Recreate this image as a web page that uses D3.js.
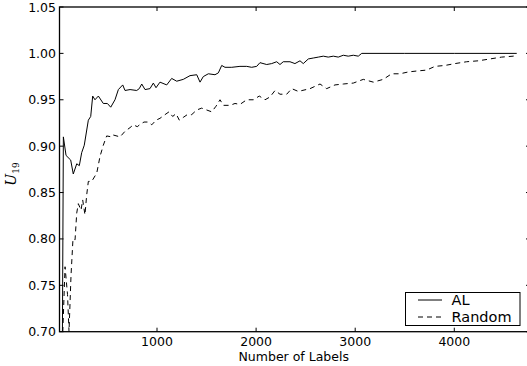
<!DOCTYPE html>
<html>
<head>
  <meta charset="UTF-8">
  <style>
    body { margin: 0; background: #fff; }
    svg text { font-family: "DejaVu Sans", sans-serif; fill: #000; }
  </style>
  <script src="https://d3js.org/d3.v7.min.js"></script>
</head>
<body>
<svg id="chart" width="527" height="366"></svg>
<script>
// number of labels vs U19
var alX = [41, 55, 82, 129, 155, 190, 216, 240, 266, 307, 331, 351, 374, 408, 458, 499, 533, 576, 610, 654, 677, 728, 795, 821, 846, 879, 929, 963, 990, 1030, 1098, 1148, 1199, 1265, 1333, 1401, 1434, 1467, 1518, 1585, 1619, 1653, 1686, 1754, 1837, 1905, 1955, 2006, 2039, 2107, 2157, 2208, 2241, 2274, 2342, 2392, 2443, 2476, 2527, 2577, 2628, 2678, 2728, 2779, 2829, 2880, 2930, 2981, 3031, 3066, 3500, 4000, 4630];
var alY = [0.60, 0.910, 0.890, 0.885, 0.870, 0.881, 0.879, 0.893, 0.901, 0.928, 0.932, 0.954, 0.950, 0.954, 0.946, 0.946, 0.942, 0.950, 0.961, 0.966, 0.960, 0.961, 0.960, 0.962, 0.967, 0.961, 0.962, 0.968, 0.963, 0.969, 0.966, 0.973, 0.970, 0.972, 0.976, 0.977, 0.969, 0.975, 0.978, 0.977, 0.979, 0.987, 0.985, 0.985, 0.986, 0.986, 0.985, 0.986, 0.990, 0.988, 0.989, 0.991, 0.988, 0.991, 0.991, 0.989, 0.992, 0.989, 0.994, 0.995, 0.996, 0.997, 0.996, 0.997, 0.996, 0.998, 0.997, 0.998, 0.997, 1.000, 1.000, 1.000, 1.000];

var rndX = [46, 72, 97, 112, 132, 152, 173, 190, 206, 233, 250, 273, 290, 307, 341, 392, 425, 458, 492, 543, 559, 627, 677, 728, 761, 801, 836, 869, 912, 947, 990, 1030, 1081, 1121, 1158, 1192, 1225, 1265, 1306, 1350, 1401, 1451, 1501, 1552, 1595, 1636, 1669, 1737, 1787, 1837, 1905, 1972, 2032, 2090, 2140, 2191, 2241, 2309, 2359, 2426, 2544, 2645, 2712, 2796, 2880, 2981, 3082, 3183, 3283, 3368, 3452, 3536, 3620, 3721, 3805, 3906, 4007, 4125, 4242, 4360, 4478, 4595, 4635];
var rndY = [0.69, 0.77, 0.74, 0.70, 0.76, 0.80, 0.799, 0.828, 0.838, 0.831, 0.842, 0.826, 0.847, 0.862, 0.862, 0.871, 0.889, 0.901, 0.911, 0.910, 0.912, 0.910, 0.916, 0.920, 0.923, 0.921, 0.924, 0.926, 0.926, 0.923, 0.928, 0.930, 0.934, 0.937, 0.932, 0.935, 0.928, 0.931, 0.934, 0.934, 0.939, 0.941, 0.939, 0.937, 0.943, 0.950, 0.944, 0.944, 0.946, 0.945, 0.950, 0.950, 0.954, 0.950, 0.953, 0.960, 0.956, 0.956, 0.962, 0.959, 0.962, 0.967, 0.962, 0.966, 0.967, 0.968, 0.972, 0.969, 0.972, 0.978, 0.978, 0.980, 0.981, 0.982, 0.986, 0.987, 0.989, 0.991, 0.992, 0.994, 0.996, 0.997, 0.998];

var xTicks = [1000, 2000, 3000, 4000];
var yTicks = [0.70, 0.75, 0.80, 0.85, 0.90, 0.95, 1.00, 1.05];
var seriesNames = ["AL", "Random"];

(function() {
  var svg = d3.select("#chart");
  var pl = 59.5, pr = 530, pt = 7, pb = 331.7;

  var x = d3.scaleLinear().domain([16, 4764]).range([pl, pr]);
  var y = d3.scaleLinear().domain([0.70, 1.05]).range([pb, pt]);

  svg.append("clipPath").attr("id", "clip")
    .append("rect").attr("x", pl).attr("y", pt)
    .attr("width", pr - pl).attr("height", pb - pt);

  var line = d3.line().x(d => x(d[0])).y(d => y(d[1]));
  var plot = svg.append("g").attr("clip-path", "url(#clip)");

  plot.append("path")
    .datum(d3.zip(alX, alY))
    .attr("d", line)
    .attr("fill", "none").attr("stroke", "#000").attr("stroke-width", 1);

  plot.append("path")
    .datum(d3.zip(rndX, rndY))
    .attr("d", line)
    .attr("fill", "none").attr("stroke", "#000").attr("stroke-width", 1)
    .attr("stroke-dasharray", "5,4");

  // ticks, pointing inward on all four sides
  var tk = 4;
  svg.append("g").selectAll("line").data(xTicks).enter().append("line")
    .attr("x1", d => x(d)).attr("x2", d => x(d))
    .attr("y1", pb).attr("y2", pb - tk)
    .attr("stroke", "#000");
  svg.append("g").selectAll("line").data(xTicks).enter().append("line")
    .attr("x1", d => x(d)).attr("x2", d => x(d))
    .attr("y1", pt).attr("y2", pt + tk)
    .attr("stroke", "#000");
  svg.append("g").selectAll("line").data(yTicks).enter().append("line")
    .attr("x1", pl).attr("x2", pl + tk)
    .attr("y1", d => y(d)).attr("y2", d => y(d))
    .attr("stroke", "#000");
  svg.append("g").selectAll("line").data(yTicks).enter().append("line")
    .attr("x1", pr - tk).attr("x2", pr)
    .attr("y1", d => y(d)).attr("y2", d => y(d))
    .attr("stroke", "#000");

  svg.append("g").selectAll("text").data(xTicks).enter().append("text")
    .attr("x", d => x(d)).attr("y", 346)
    .attr("text-anchor", "middle").attr("font-size", "12.5px")
    .text(d => d);
  svg.append("g").selectAll("text").data(yTicks).enter().append("text")
    .attr("x", 56).attr("y", d => y(d) + 4.5)
    .attr("text-anchor", "end").attr("font-size", "12.5px")
    .text(d => d.toFixed(2));

  // frame
  svg.append("rect")
    .attr("x", pl).attr("y", pt)
    .attr("width", pr - pl).attr("height", pb - pt)
    .attr("fill", "none").attr("stroke", "#000").attr("stroke-width", 1.3);

  svg.append("text")
    .attr("x", (pl + pr) / 2 - 1).attr("y", 361)
    .attr("text-anchor", "middle").attr("font-size", "12.5px")
    .text("Number of Labels");

  var yl = svg.append("text")
    .attr("transform", "translate(16,174) rotate(-90)")
    .attr("text-anchor", "middle");
  yl.append("tspan").style("font-family", "'DejaVu Serif', serif")
    .style("font-style", "italic").attr("font-size", "14px").text("U");
  yl.append("tspan").style("font-family", "'DejaVu Serif', serif")
    .attr("font-size", "9px").attr("dy", 3).text("19");

  // legend
  var lg = svg.append("g");
  lg.append("rect").attr("x", 405.5).attr("y", 292.5).attr("width", 114.5).attr("height", 33)
    .attr("fill", "#fff").attr("stroke", "#000").attr("stroke-width", 1);
  seriesNames.forEach(function(name, i) {
    var ly = 300 + i * 17;
    lg.append("line").attr("x1", 418).attr("x2", 442).attr("y1", ly).attr("y2", ly)
      .attr("stroke", "#000").attr("stroke-width", 1)
      .attr("stroke-dasharray", i === 1 ? "5,4" : null);
    lg.append("text").attr("x", 451.5).attr("y", ly + 5.2)
      .attr("font-size", "14.5px").text(name);
  });
})();
</script>
</body>
</html>
